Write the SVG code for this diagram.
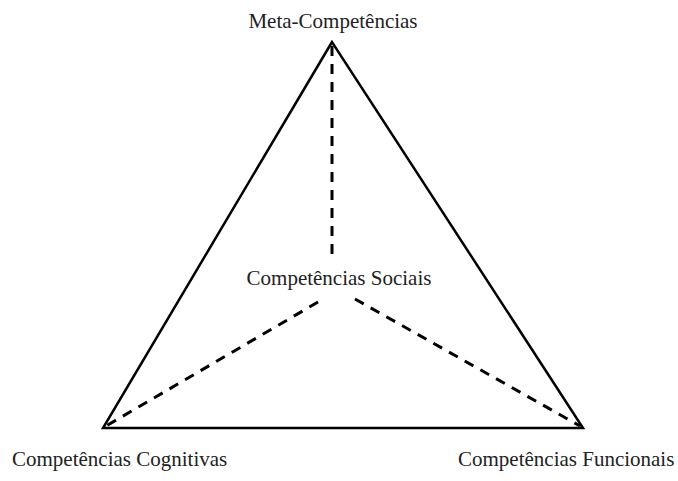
<svg xmlns="http://www.w3.org/2000/svg" width="678" height="481" viewBox="0 0 678 481">
<style>
.lbl{font-family:"Liberation Serif","Times New Roman",serif;font-size:21px;fill:#222}
.solid{fill:none;stroke:#000;stroke-width:2.5;stroke-linejoin:miter}
.dash{fill:none;stroke:#000;stroke-width:3;stroke-dasharray:10 8}
</style>
<rect width="678" height="481" fill="#fff"/>
<g id="connectors">
<polygon class="solid" points="332,42 103,428 583,428"/>
<line class="dash" x1="332" y1="46" x2="332" y2="256"/>
<line class="dash" x1="318" y1="302" x2="106" y2="426"/>
<line class="dash" x1="355" y1="299" x2="580" y2="426"/>
</g>
<g id="meta"><text class="lbl" x="333" y="28" text-anchor="middle">Meta-Competências</text></g>
<g id="sociais"><text class="lbl" x="339" y="285" text-anchor="middle">Competências Sociais</text></g>
<g id="cognitivas"><text class="lbl" x="12" y="466">Competências Cognitivas</text></g>
<g id="funcionais"><text class="lbl" x="458" y="466">Competências Funcionais</text></g>
</svg>
